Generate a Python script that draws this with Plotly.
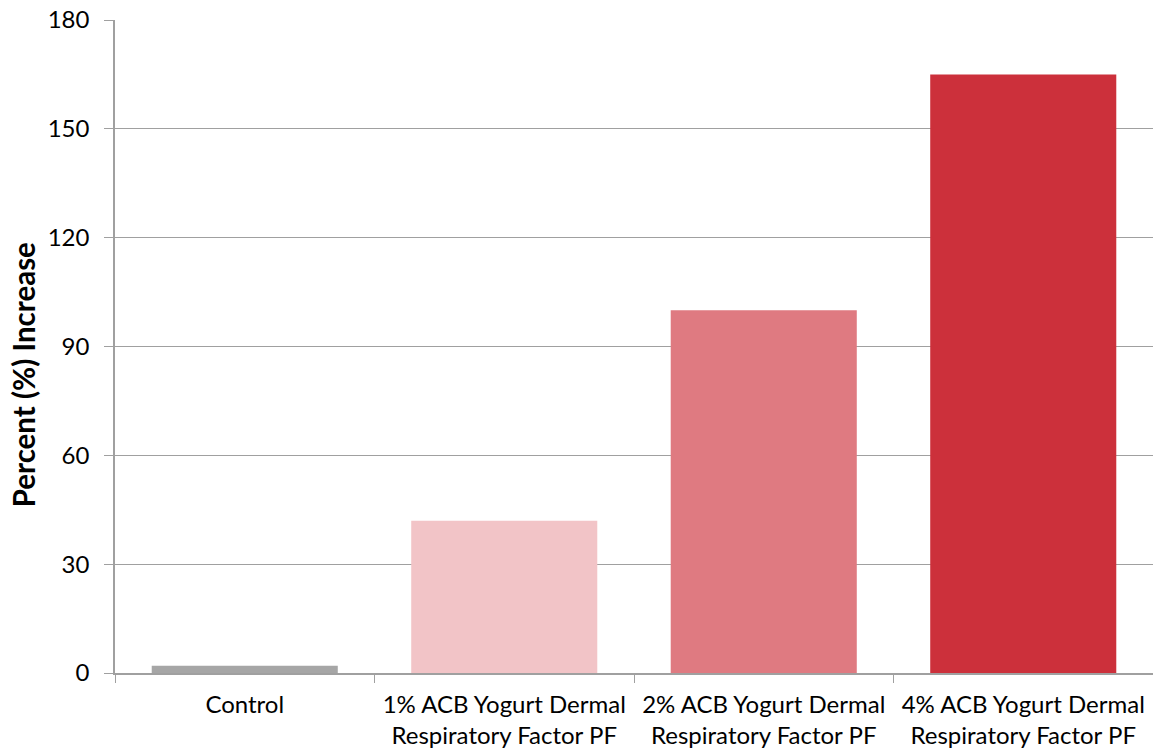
import plotly.graph_objects as go

categories = ["Control",
              "1% ACB Yogurt Dermal<br>Respiratory Factor PF",
              "2% ACB Yogurt Dermal<br>Respiratory Factor PF",
              "4% ACB Yogurt Dermal<br>Respiratory Factor PF"]
values = [2, 42, 100, 165]
colors = ["#a6a6a6", "#f2c4c7", "#df7a81", "#cc303b"]
y_ticks = [0, 30, 60, 90, 120, 150, 180]
y_title = "Percent (%) Increase"

fig = go.Figure(go.Bar(x=categories, y=values, marker_color=colors, marker_line_width=0))

font = "Lato, Carlito, Calibri, 'Open Sans', sans-serif"
fig.update_layout(
    width=1153, height=751,
    margin=dict(l=115, r=0, t=20, b=78),
    plot_bgcolor="white", paper_bgcolor="white",
    bargap=0.283,
    showlegend=False,
    font=dict(family=font, size=24, color="#000000"),
)
fig.update_xaxes(
    showline=True, linecolor="#a0a0a0", linewidth=1.5,
    ticks="outside", tickson="boundaries", ticklen=8, tickcolor="#a0a0a0",
    tickfont=dict(size=24), automargin=False, ticklabelstandoff=9,
)
fig.update_yaxes(
    range=[0, 180], tickvals=y_ticks,
    showgrid=True, gridcolor="#a0a0a0", gridwidth=1,
    showline=True, linecolor="#a0a0a0", linewidth=1.5,
    ticks="outside", ticklen=9, tickcolor="#a0a0a0",
    tickfont=dict(size=24), zeroline=False, automargin=False,
    ticklabelstandoff=10,
)
fig.add_annotation(
    text="<b>" + y_title + "</b>", textangle=-90,
    xref="paper", yref="paper", x=-0.0886, y=0.456,
    xanchor="center", yanchor="middle", showarrow=False,
    font=dict(size=29.5, family=font, color="#000000"),
)
fig.write_html(
    "out.html",
    config={"displayModeBar": False},
    post_script="document.body.style.margin='0';document.body.style.overflow='hidden';",
)
